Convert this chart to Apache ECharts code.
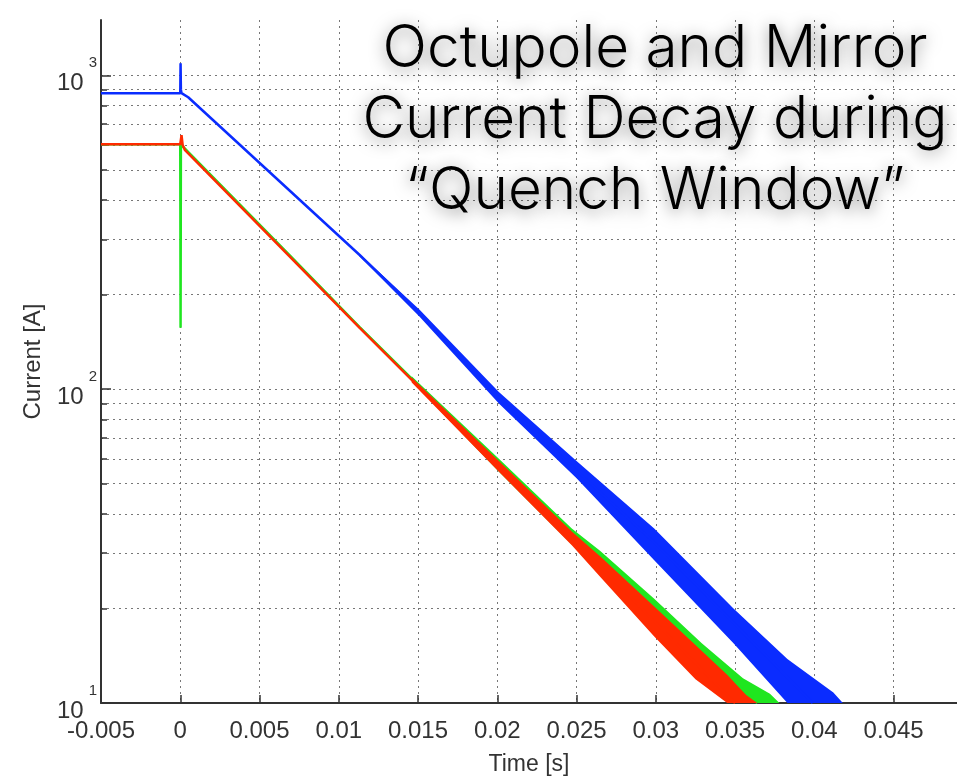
<!DOCTYPE html>
<html>
<head>
<meta charset="utf-8">
<script src="https://cdn.jsdelivr.net/npm/echarts@6/dist/echarts.min.js"></script>
<style>
  html, body { margin: 0; padding: 0; background: #fff; }
  #chart { width: 957px; height: 781px; }
</style>
</head>
<body>
<div id="chart"></div>
<script>
// octupole / mirror current decay, log y axis

const yMajor = [10, 100, 1000]
const yMinor = [20, 30, 40, 50, 60, 70, 80, 90, 200, 300, 400, 500, 600, 700, 800, 900]

// blue trace (centre line)
const blueTime = [-0.005, 0, 0.00002, 0.00004, 0.00008, 0.0005, 0.0113, 0.0151, 0.0201, 0.025, 0.0299, 0.0349, 0.0399]
const blueCur = [877, 877, 1092, 900, 877, 851, 268, 175, 94, 55, 32.5, 18, 10]
// blue noise band
const blueBandT = [0.0113, 0.0151, 0.0201, 0.025, 0.0299, 0.0349, 0.0383, 0.0412, 0.0418]
const blueBandHi = [270, 179, 98, 59, 36, 20, 13.8, 10.8, 10]
const blueBandLo = [265, 170, 90, 52, 28.5, 15.5, 10, 10, 10]

// green trace
const greenTime = [-0.005, 0, 0.00002, 0.00004, 0.0002, 0.0068, 0.0113, 0.0146, 0.0201, 0.0247, 0.0265, 0.0299, 0.0364]
const greenCur = [603, 603, 157, 600, 590, 270, 158, 108, 57.5, 34, 29, 19.8, 10]
const greenBandT = [0.0146, 0.0201, 0.0247, 0.0265, 0.0299, 0.0329, 0.0355, 0.0372, 0.0378]
const greenBandHi = [110, 60, 36, 30.5, 21.5, 15.5, 12, 10.7, 10]
const greenBandLo = [106, 54.5, 32, 26.5, 18, 12.8, 10, 10, 10]

// red trace
const redTime = [-0.005, 0, 0.00008, 0.00015, 0.0003, 0.0068, 0.0113, 0.0146, 0.0201, 0.0247, 0.0265, 0.0299, 0.035]
const redCur = [603, 603, 644, 600, 577, 268, 157, 107, 56.7, 33.5, 27.2, 18.2, 10]
const redBandT = [0.0146, 0.0201, 0.0247, 0.0265, 0.0299, 0.0325, 0.0345, 0.0357, 0.0364]
const redBandHi = [109, 59, 35.2, 29.3, 20.3, 15.3, 12.3, 10.6, 10]
const redBandLo = [105, 54.5, 31.8, 25.2, 16.3, 11.9, 10, 10, 10]

const BLUE = '#0a2cff', GREEN = '#1fe61f', RED = '#ff2a00'
const TEXT = '#333'
const dotted = { type: [2, 4], color: '#777', width: 1 }

function zip(a, b) {
  return a.map((v, i) => [v, b[i]])
}

function lineSeries(name, t, c, color, z) {
  return {
    name: name, type: 'line', data: zip(t, c), showSymbol: false, silent: true,
    z: z, lineStyle: { color: color, width: 2.5 }, animation: false
  }
}

// noise band as a filled polygon between upper / lower envelopes
function bandSeries(name, t, hi, lo, color, z) {
  return {
    name: name, type: 'custom', silent: true, z: z, animation: false,
    data: [[t[0], hi[0]]],
    renderItem: function (params, api) {
      const pts = []
      for (let i = 0; i < t.length; i++) pts.push(api.coord([t[i], hi[i]]))
      for (let i = t.length - 1; i >= 0; i--) pts.push(api.coord([t[i], lo[i]]))
      return { type: 'polygon', shape: { points: pts }, style: { fill: color } }
    }
  }
}

const chart = echarts.init(document.getElementById('chart'), null, { renderer: 'canvas' })

const gridLines = yMinor.concat([100, 1000]).map(v => ({ yAxis: v }))

const blueLine = lineSeries('blue', blueTime, blueCur, BLUE, 3)
blueLine.markLine = {
  silent: true, symbol: 'none', z: 0, animation: false,
  label: { show: false }, lineStyle: dotted, emphasis: { disabled: true },
  data: gridLines
}

chart.setOption({
  animation: false,
  grid: { left: 101, right: 0, top: 20, bottom: 77 },
  xAxis: {
    type: 'value', min: -0.005, max: 0.049, interval: 0.005,
    name: 'Time [s]', nameLocation: 'middle', nameGap: 50,
    nameTextStyle: { fontFamily: 'Liberation Sans', fontSize: 23, color: TEXT },
    axisLine: { onZero: false, lineStyle: { color: '#333', width: 2 } },
    axisTick: { inside: true, length: 8, lineStyle: { color: '#333', width: 1.5 } },
    axisLabel: {
      margin: 16, fontFamily: 'Liberation Sans', fontSize: 24, color: TEXT,
      showMaxLabel: false,
      formatter: v => String(+v.toFixed(3))
    },
    splitLine: { show: true, lineStyle: dotted }
  },
  yAxis: [{
    type: 'log', logBase: 10, min: 10, max: 1500,
    name: 'Current [A]', nameLocation: 'middle', nameGap: 56,
    nameTextStyle: { fontFamily: 'Liberation Sans', fontSize: 24, color: TEXT },
    axisLine: { show: true, onZero: false, lineStyle: { color: '#333', width: 2 } },
    axisTick: { inside: true, length: 10, customValues: yMajor, lineStyle: { color: '#333', width: 1.5 } },
    axisLabel: {
      customValues: yMajor, margin: 4,
      formatter: v => '{b|10}{s|' + Math.round(Math.log10(v)) + '}',
      rich: {
        b: { fontFamily: 'Liberation Sans', fontSize: 24, color: TEXT, padding: [16, 0, 0, 0] },
        s: { fontFamily: 'Liberation Sans', fontSize: 15, color: TEXT, verticalAlign: 'top', padding: [0, 0, 0, 5] }
      }
    },
    splitLine: { show: false }
  }, {
    type: 'log', logBase: 10, min: 10, max: 1500, position: 'left',
    axisLine: { show: false, onZero: false },
    axisTick: { inside: true, length: 6, customValues: yMinor, lineStyle: { color: '#333', width: 1.5 } },
    axisLabel: { show: false },
    splitLine: { show: false }
  }],
  series: [
    bandSeries('blueBand', blueBandT, blueBandHi, blueBandLo, BLUE, 2),
    blueLine,
    bandSeries('greenBand', greenBandT, greenBandHi, greenBandLo, GREEN, 4),
    lineSeries('green', greenTime, greenCur, GREEN, 5),
    bandSeries('redBand', redBandT, redBandHi, redBandLo, RED, 6),
    lineSeries('red', redTime, redCur, RED, 7)
  ],
  graphic: [{
    type: 'text', x: 655, y: 14, z: 100, silent: true,
    style: {
      text: 'Octupole and Mirror\nCurrent Decay during\n\u201cQuench Window\u201d',
      x: 0, y: 0, align: 'center', textAlign: 'center', verticalAlign: 'top',
      font: '300 58.5px Inter', fill: '#000', lineHeight: 71,
      textShadowColor: 'rgba(0,0,0,0.5)', textShadowBlur: 16, textShadowOffsetY: 3
    }
  }]
})
</script>
</body>
</html>
